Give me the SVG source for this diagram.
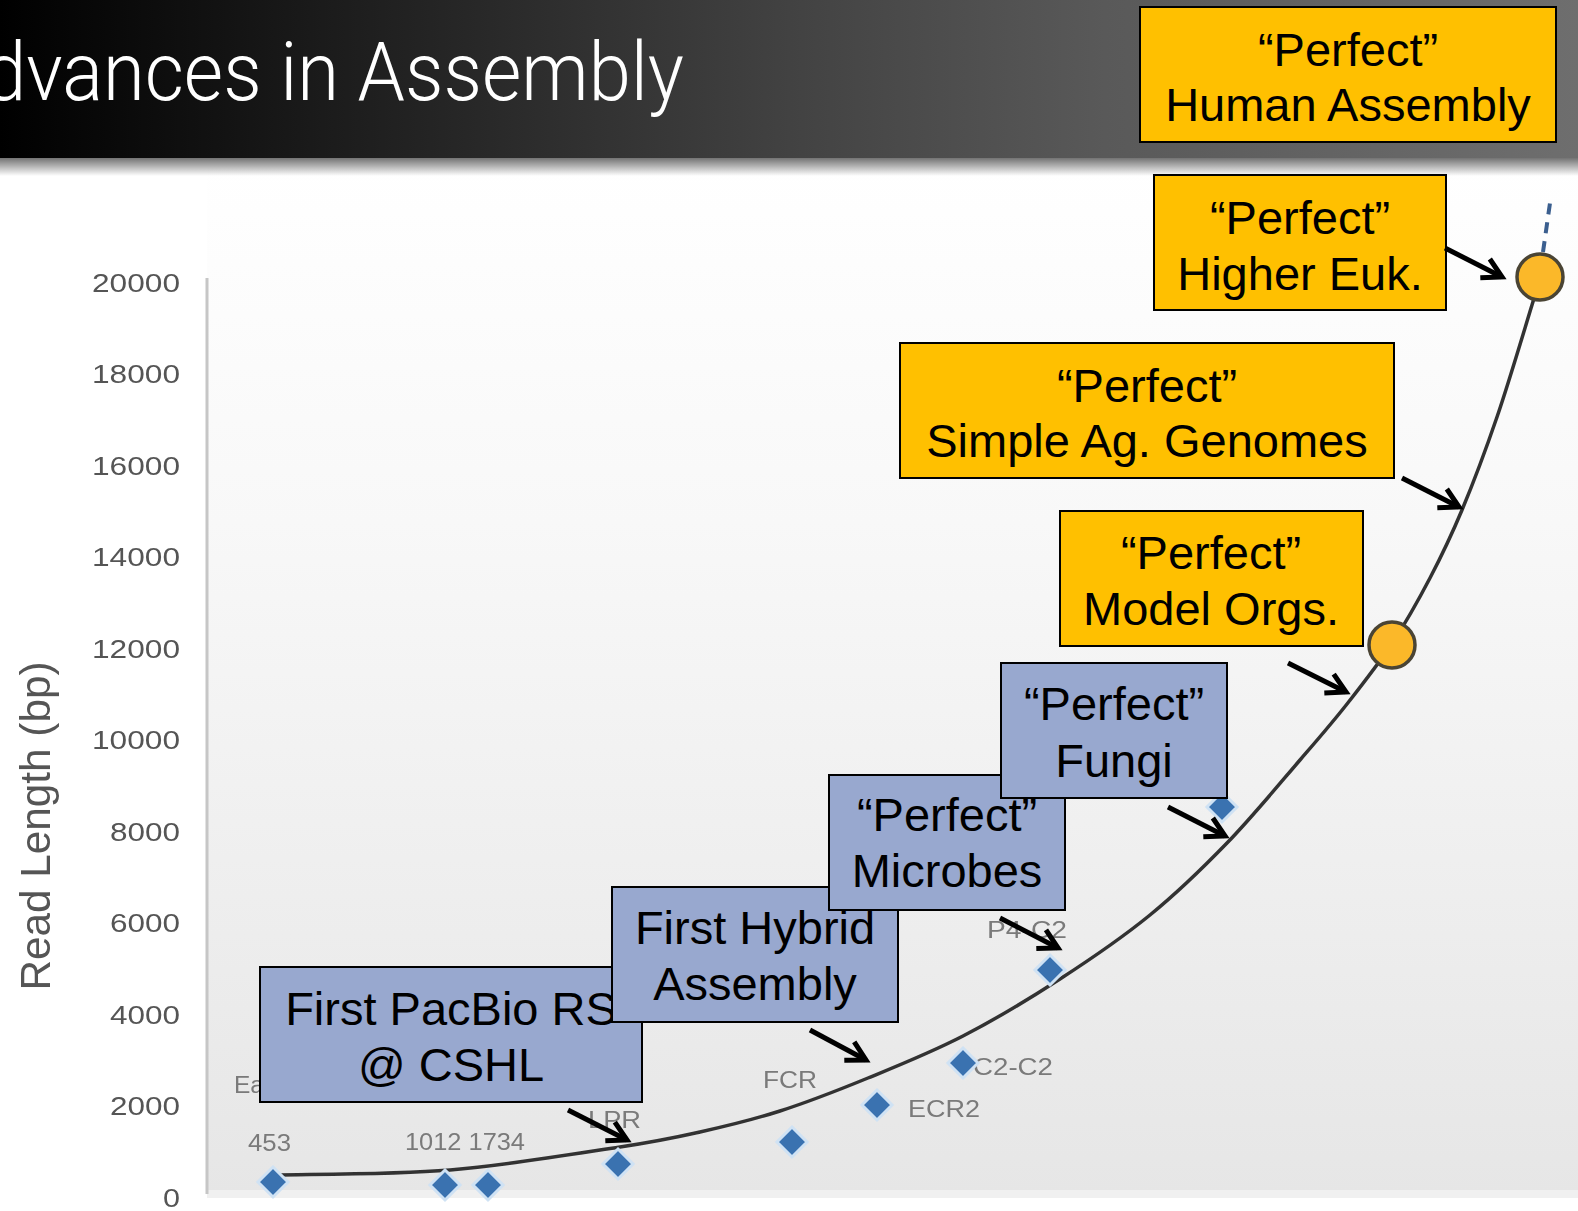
<svg xmlns="http://www.w3.org/2000/svg" width="1578" height="1211" viewBox="0 0 1578 1211">
<defs>
<linearGradient id="barg" x1="0" y1="0" x2="1578" y2="0" gradientUnits="userSpaceOnUse">
<stop offset="0" stop-color="#000"/>
<stop offset="0.5" stop-color="#424242"/>
<stop offset="0.7" stop-color="#595959"/>
<stop offset="1" stop-color="#6e6e6e"/>
</linearGradient>
<linearGradient id="shad" x1="0" y1="0" x2="0" y2="1">
<stop offset="0" stop-color="#000" stop-opacity="0.55"/>
<stop offset="1" stop-color="#000" stop-opacity="0"/>
</linearGradient>
<linearGradient id="chartbg" x1="0" y1="160" x2="0" y2="1195" gradientUnits="userSpaceOnUse">
<stop offset="0" stop-color="#ffffff"/>
<stop offset="0.35" stop-color="#f8f8f8"/>
<stop offset="1" stop-color="#e6e6e6"/>
</linearGradient>
<filter id="soft" x="-10%" y="-10%" width="120%" height="120%"><feGaussianBlur stdDeviation="0.6"/></filter>
<marker id="ah" markerUnits="userSpaceOnUse" viewBox="-30 -20 40 40" markerWidth="40" markerHeight="40" refX="0" refY="0" orient="auto">
<path d="M-19,-10.5 L0,0 L-19,10.5" fill="none" stroke="#000" stroke-width="5" stroke-linejoin="miter"/>
</marker>
</defs>
<style>
.box text{font-family:"Liberation Sans",Arial,sans-serif;font-size:47px;fill:#000;text-anchor:middle}
.blue{fill:#98a8cf;stroke:#000;stroke-width:2}
.yel{fill:#ffc000;stroke:#000;stroke-width:2}
.tick{font-family:"Liberation Sans",Arial,sans-serif;font-size:25px;fill:#555;text-anchor:end}
.dl{font-family:"Liberation Sans",Arial,sans-serif;font-size:23px;fill:#7a7a7a}
.dia{fill:#3a72b0;stroke:#cfe2f4;stroke-width:3}
.arr{stroke:#000;stroke-width:5;fill:none;marker-end:url(#ah)}
.orb{fill:#fbb829;stroke:#4a4434;stroke-width:3.5}
</style>

<!-- background -->
<rect x="0" y="0" width="1578" height="1211" fill="#fff"/>
<rect x="207" y="160" width="1371" height="1035" fill="url(#chartbg)"/>
<rect x="207" y="1190" width="1371" height="8" fill="#f0f0f0"/>

<!-- title bar -->
<g id="titlebar">
<rect x="0" y="0" width="1578" height="158" fill="url(#barg)"/>
<rect x="0" y="158" width="1578" height="18" fill="url(#shad)"/>
<text x="-16" y="100" textLength="700" lengthAdjust="spacingAndGlyphs" font-family="Roboto, 'Liberation Sans', sans-serif" font-weight="300" font-size="81" fill="#fff">dvances in Assembly</text>
</g>

<!-- axis -->
<g id="axis" filter="url(#soft)">
<line x1="207" y1="278" x2="207" y2="1194" stroke="#c6c6c6" stroke-width="3"/>
<text class="tick" x="180" y="292" textLength="88" lengthAdjust="spacingAndGlyphs">20000</text>
<text class="tick" x="180" y="383" textLength="88" lengthAdjust="spacingAndGlyphs">18000</text>
<text class="tick" x="180" y="475" textLength="88" lengthAdjust="spacingAndGlyphs">16000</text>
<text class="tick" x="180" y="566" textLength="88" lengthAdjust="spacingAndGlyphs">14000</text>
<text class="tick" x="180" y="658" textLength="88" lengthAdjust="spacingAndGlyphs">12000</text>
<text class="tick" x="180" y="749" textLength="88" lengthAdjust="spacingAndGlyphs">10000</text>
<text class="tick" x="180" y="841" textLength="70" lengthAdjust="spacingAndGlyphs">8000</text>
<text class="tick" x="180" y="932" textLength="70" lengthAdjust="spacingAndGlyphs">6000</text>
<text class="tick" x="180" y="1024" textLength="70" lengthAdjust="spacingAndGlyphs">4000</text>
<text class="tick" x="180" y="1115" textLength="70" lengthAdjust="spacingAndGlyphs">2000</text>
<text class="tick" x="180" y="1207" textLength="17" lengthAdjust="spacingAndGlyphs">0</text>
<text transform="translate(50,826) rotate(-90)" x="0" y="0" text-anchor="middle" textLength="329" lengthAdjust="spacingAndGlyphs" font-family="'Liberation Sans', Arial, sans-serif" font-size="42" fill="#555">Read Length (bp)</text>
</g>

<!-- data labels -->
<g id="datalabels" filter="url(#soft)">
<text class="dl" x="234" y="1093" textLength="30" lengthAdjust="spacingAndGlyphs">Ea</text>
<text class="dl" x="248" y="1151" textLength="43" lengthAdjust="spacingAndGlyphs">453</text>
<text class="dl" x="405" y="1150" textLength="120" lengthAdjust="spacingAndGlyphs">1012 1734</text>
<text class="dl" x="588" y="1128" textLength="53" lengthAdjust="spacingAndGlyphs">LPR</text>
<text class="dl" x="763" y="1088" textLength="54" lengthAdjust="spacingAndGlyphs">FCR</text>
<text class="dl" x="908" y="1117" textLength="72" lengthAdjust="spacingAndGlyphs">ECR2</text>
<text class="dl" x="973" y="1075" textLength="80" lengthAdjust="spacingAndGlyphs">C2-C2</text>
<text class="dl" x="987" y="938" textLength="80" lengthAdjust="spacingAndGlyphs">P4-C2</text>
</g>

<!-- trend curve -->
<g id="trend">
<path d="M277,1175 C305.8,1174.2 392.8,1174.7 450,1170 C507.2,1165.3 578.3,1153.3 620,1147 C661.7,1140.7 673.3,1138 700,1132 C726.7,1126 752,1120 780,1111 C808,1102 837.5,1090.5 868,1078 C898.5,1065.5 931,1052.5 963,1036 C995,1019.5 1028.8,999.2 1060,979 C1091.2,958.8 1122.2,937.7 1150,915 C1177.8,892.3 1202,868.8 1227,843 C1252,817.2 1280,783.2 1300,760 C1320,736.8 1331.5,723.7 1347,704 C1362.5,684.3 1379.2,663 1393,642 C1406.8,621 1418.5,600 1430,578 C1441.5,556 1450.8,536.8 1462,510 C1473.2,483.2 1485.3,451.2 1497,417 C1508.7,382.8 1524.8,328.3 1532,305 C1539.2,281.7 1538.7,281.7 1540,277" fill="none" stroke="#333" stroke-width="3.5" filter="url(#soft)"/>
<line x1="1543" y1="252" x2="1551" y2="196" stroke="#3b5f8f" stroke-width="4" stroke-dasharray="11 8"/>
</g>

<!-- data points -->
<g id="points">
<polygon class="dia" points="273,1167 288,1182 273,1197 258,1182"/>
<polygon class="dia" points="445,1170 460,1185 445,1200 430,1185"/>
<polygon class="dia" points="488,1170 503,1185 488,1200 473,1185"/>
<polygon class="dia" points="618,1149 633,1164 618,1179 603,1164"/>
<polygon class="dia" points="792,1127 807,1142 792,1157 777,1142"/>
<polygon class="dia" points="877,1090 892,1105 877,1120 862,1105"/>
<polygon class="dia" points="963,1048 978,1063 963,1078 948,1063"/>
<polygon class="dia" points="1050,955 1065,970 1050,985 1035,970"/>
<polygon class="dia" points="1222,792 1237,807 1222,822 1207,807"/>
<circle class="orb" cx="1392" cy="645" r="23"/>
<circle class="orb" cx="1540" cy="277" r="23"/>
</g>

<!-- boxes -->
<g id="box-pacbio" class="box">
<rect class="blue" x="260" y="967" width="382" height="135"/>
<text x="451" y="1025">First PacBio RS</text>
<text x="451" y="1081">@ CSHL</text>
</g>
<g id="box-hybrid" class="box">
<rect class="blue" x="612" y="887" width="286" height="135"/>
<text x="755" y="944">First Hybrid</text>
<text x="755" y="1000">Assembly</text>
</g>
<g id="box-microbes" class="box">
<rect class="blue" x="829" y="775" width="236" height="135"/>
<text x="947" y="831">“Perfect”</text>
<text x="947" y="887">Microbes</text>
</g>
<g id="box-fungi" class="box">
<rect class="blue" x="1001" y="663" width="226" height="135"/>
<text x="1114" y="720">“Perfect”</text>
<text x="1114" y="777">Fungi</text>
</g>
<g id="box-model" class="box">
<rect class="yel" x="1060" y="511" width="303" height="135"/>
<text x="1211" y="569">“Perfect”</text>
<text x="1211" y="625">Model Orgs.</text>
</g>
<g id="box-simpleag" class="box">
<rect class="yel" x="900" y="343" width="494" height="135"/>
<text x="1147" y="402">“Perfect”</text>
<text x="1147" y="457">Simple Ag. Genomes</text>
</g>
<g id="box-highereuk" class="box">
<rect class="yel" x="1154" y="175" width="292" height="135"/>
<text x="1300" y="234">“Perfect”</text>
<text x="1300" y="290">Higher Euk.</text>
</g>
<g id="box-human" class="box">
<rect class="yel" x="1140" y="7" width="416" height="135"/>
<text x="1348" y="66">“Perfect”</text>
<text x="1348" y="121">Human Assembly</text>
</g>

<!-- connectors -->
<g id="connectors">
<line class="arr" x1="1445" y1="248" x2="1502" y2="277"/>
<line class="arr" x1="1402" y1="478" x2="1459" y2="507"/>
<line class="arr" x1="1288" y1="663" x2="1346" y2="692"/>
<line class="arr" x1="1168" y1="807" x2="1225" y2="836"/>
<line class="arr" x1="1000" y1="918" x2="1058" y2="948"/>
<line class="arr" x1="810" y1="1030" x2="866" y2="1060"/>
<line class="arr" x1="568" y1="1110" x2="627" y2="1140"/>
</g>
</svg>
